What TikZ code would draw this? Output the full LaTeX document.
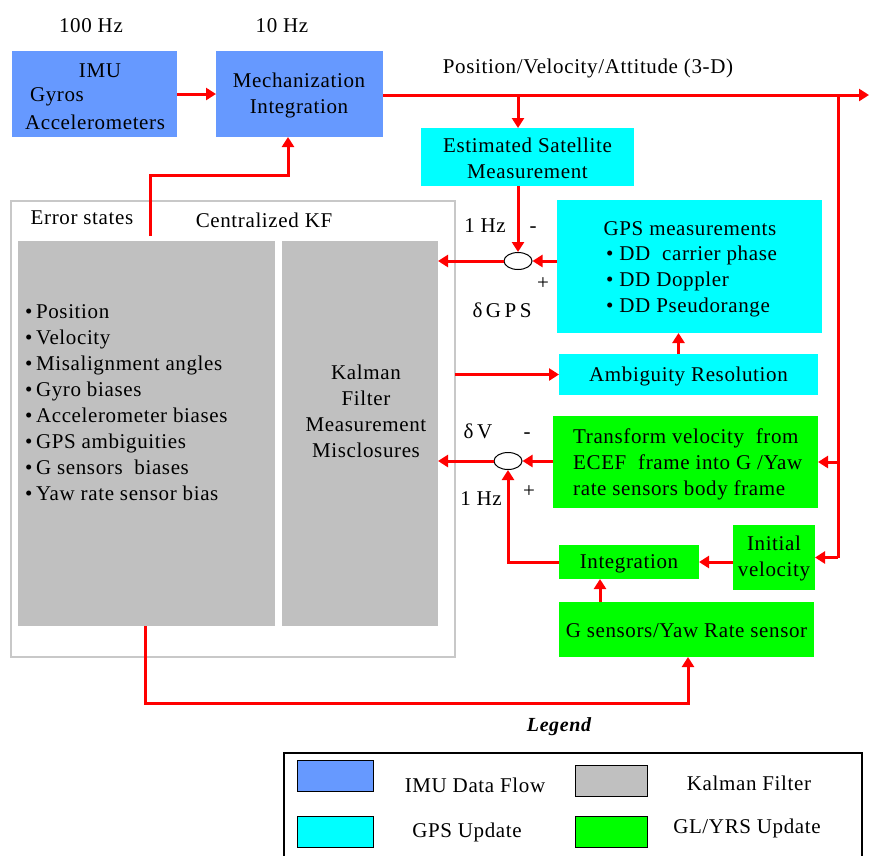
\documentclass[tikz,border=0pt]{standalone}
\usepackage{fontspec}
\setmainfont{Liberation Serif}[LetterSpace=3]
\usetikzlibrary{arrows.meta,shapes.geometric,calc}
\definecolor{imublue}{RGB}{102,153,255}
\definecolor{gpscyan}{RGB}{0,255,255}
\definecolor{yrsgreen}{RGB}{0,255,0}
\definecolor{kfgray}{RGB}{192,192,192}
\definecolor{framegray}{RGB}{200,200,200}
\definecolor{flowred}{RGB}{255,0,0}
\begin{document}
\begin{tikzpicture}[x=1pt,y=-1pt,
  font=\fontsize{21}{26}\selectfont,
  blk/.style={rectangle,inner sep=0pt,outer sep=0pt},
  txt/.style={inner sep=0pt,align=center},
  flow/.style={flowred,line width=3pt},
  arr/.style={flow,-{Triangle[length=10pt,width=12pt]}},
  sumpt/.style={ellipse,draw=black,line width=1pt,fill=white,minimum width=28pt,minimum height=17pt,inner sep=0pt},
  swatch/.style={rectangle,draw=black,line width=1pt,minimum width=76pt,minimum height=31pt,inner sep=0pt}]
\useasboundingbox (0,0) rectangle (869,855);
\fill[white] (0,0) rectangle (869,855);

% IMU and mechanization
\node[blk,fill=imublue,minimum width=165,minimum height=86] (imu) at (94.5,94) {};
\node[blk,fill=imublue,minimum width=167,minimum height=86] (mech) at (299.5,94) {};
\node[txt] at (91,26) {100 Hz};
\node[txt] at (282,26) {10 Hz};
\node[txt] at (100,71) {IMU};
\node[txt] at (57,97) {Gyros};
\node[txt] at (95,122) {Accelerometers};
\node[txt] at (299,95) {Mechanization\\Integration};
\node[txt] at (588,68) {Position/Velocity/Attitude (3-D)};

% GPS blocks
\node[blk,fill=gpscyan,minimum width=213,minimum height=58] (esm) at (527.5,157) {};
\node[txt] at (527.5,158) {Estimated Satellite\\Measurement};
\node[blk,fill=gpscyan,minimum width=265,minimum height=133] (gps) at (689.5,266.5) {};
\node[txt] at (690,229) {GPS measurements};
\node[txt,align=left,anchor=west] at (606,281) {\textbullet\ DD\ \ carrier phase\\\textbullet\ DD Doppler\\\textbullet\ DD Pseudorange};
\node[blk,fill=gpscyan,minimum width=259,minimum height=41] (amb) at (688.5,374.5) {};
\node[txt] at (688.5,376) {Ambiguity Resolution};

% G sensor / yaw rate blocks
\node[blk,fill=yrsgreen,minimum width=265,minimum height=92] (trans) at (685.5,462) {};
\node[txt,align=left,anchor=west] at (573,464) {Transform velocity\ \ from\\ECEF\ \ frame into G /Yaw\\rate sensors body frame};
\node[blk,fill=yrsgreen,minimum width=82,minimum height=65] (init) at (774,557.5) {};
\node[txt] at (774,558) {Initial\\velocity};
\node[blk,fill=yrsgreen,minimum width=140,minimum height=34] (integ) at (629,562) {};
\node[txt] at (629,564) {Integration};
\node[blk,fill=yrsgreen,minimum width=255,minimum height=55] (gsens) at (686.5,629.5) {};
\node[txt] at (686.5,631) {G sensors/Yaw Rate sensor};

% Centralized Kalman filter
\node[blk,draw=framegray,line width=2pt,minimum width=444,minimum height=456] (kfframe) at (233,429) {};
\node[txt] at (82,218) {Error states};
\node[txt] at (264,220) {Centralized KF};
\node[blk,fill=kfgray,minimum width=257,minimum height=385] (states) at (146.5,433.5) {};
\node[blk,fill=kfgray,minimum width=156,minimum height=385] (kfm) at (360,433.5) {};
\node[txt,align=left,anchor=west] at (25,403) {%
  \textbullet\,Position\\\textbullet\,Velocity\\\textbullet\,Misalignment angles\\%
  \textbullet\,Gyro biases\\\textbullet\,Accelerometer biases\\\textbullet\,GPS ambiguities\\%
  \textbullet\,G sensors\ \ biases\\\textbullet\,Yaw rate sensor bias};
\node[txt] at (366,411) {Kalman\\Filter\\Measurement\\Misclosures};

% Summing points and their labels
\node[sumpt] (sum1) at (518,261) {};
\node[sumpt] (sum2) at (508,461) {};
\node[txt] at (485,226) {1 Hz};
\node[txt] at (533,230) {-};
\node[txt] at (543,284) {+};
\node[txt] at (502,310) {δ\,G\,P\,S};
\node[txt] at (478,431) {δ\,V};
\node[txt] at (527,436) {-};
\node[txt] at (481,499) {1 Hz};
\node[txt] at (529,492) {+};

% Junction points of the flow lines
\coordinate (pvaout) at (869,95);
\coordinate (esmtap) at (518,95);
\coordinate (vtap) at (838,95);
\coordinate (fbk) at (288,175);
\coordinate (esout) at (150,236);
\coordinate (botl) at (145,703);

% Flow connectors
\draw[arr] (imu.east) -- (mech.west);
\draw[arr] (mech.east |- pvaout) -- (pvaout);
\draw[arr] (esmtap) -- (esmtap |- esm.north);
\draw[arr] (sum1 |- esm.south) -- (sum1.north);
\draw[arr] (gps.west |- sum1) -- (sum1.east);
\draw[arr] (sum1.west) -- (kfm.east |- sum1);
\draw[arr] ([xshift=-10]amb.north) -- ([xshift=-10]amb.north |- gps.south);
\draw[arr] (kfframe.east |- amb) -- (amb.west);
\draw[arr] (trans.west |- sum2) -- (sum2.east);
\draw[arr] (sum2.west) -- (kfm.east |- sum2);
\draw[flow] (vtap) -- (vtap |- init);
\draw[arr] (vtap |- trans) -- (trans.east);
\draw[arr] (vtap |- init) -- (init.east);
\draw[arr] (init.west |- integ) -- (integ.east);
\draw[arr] (integ.west) -| (sum2.south);
\draw[arr] ([xshift=-29]integ.south |- gsens.north) -- ([xshift=-29]integ.south);
\draw[arr] (esout) |- (fbk) -- (fbk |- mech.south);
\draw[arr] (botl |- states.south) -- (botl) -| ([xshift=1.5]gsens.south);

% Legend
\node[txt,font=\fontsize{20}{24}\selectfont\bfseries\itshape] at (559,727) {Legend};
\draw[black,line width=2pt] (284,860) -- (284,753) -- (862,753) -- (862,860);
\node[swatch,fill=imublue] (lgimu) at (335,776) {};
\node[swatch,fill=kfgray,minimum width=72] (lgkf) at (611,780.5) {};
\node[swatch,fill=gpscyan] (lggps) at (335,831.5) {};
\node[swatch,fill=yrsgreen,minimum width=72] (lgyrs) at (611,831.5) {};
\node[txt] at (475,785) {IMU Data Flow};
\node[txt] at (749,783) {Kalman Filter};
\node[txt] at (467,832) {GPS Update};
\node[txt] at (747,828) {GL/YRS Update};
\end{tikzpicture}
\end{document}
